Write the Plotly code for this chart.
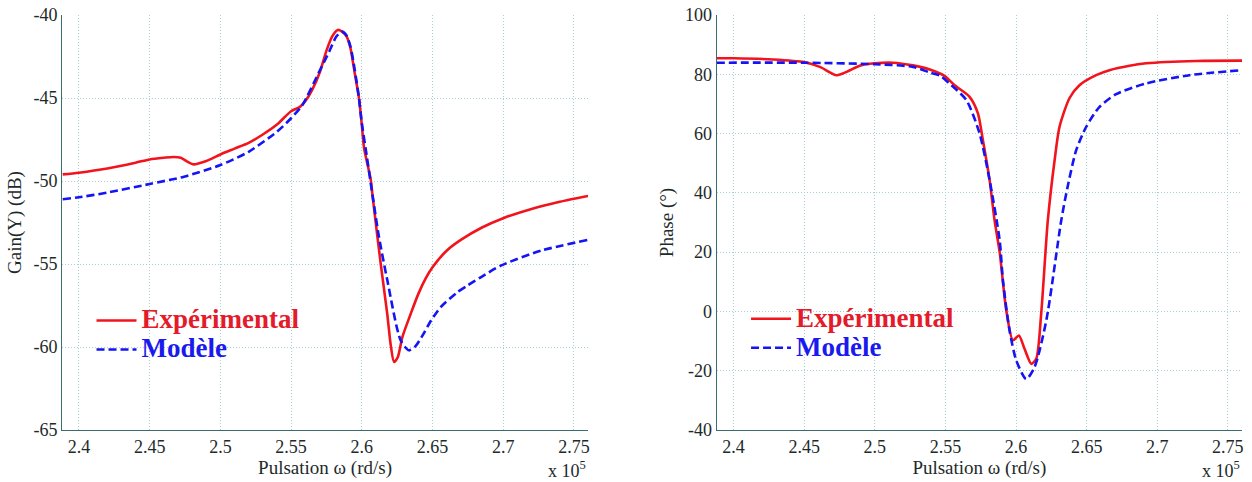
import plotly.graph_objects as go

# ---------------- data (omega in units of 1e5 rd/s) ----------------
omega_gain_exp = [2.3885, 2.40, 2.42, 2.44, 2.45, 2.46, 2.467, 2.472, 2.477, 2.481, 2.486, 2.49,
                  2.50, 2.51, 2.52, 2.53, 2.54, 2.55, 2.556, 2.56, 2.565, 2.5705, 2.5752, 2.579,
                  2.583, 2.586, 2.5893, 2.592, 2.595, 2.598, 2.60, 2.6016, 2.6063, 2.6075, 2.6134,
                  2.618, 2.6205, 2.6228, 2.6255, 2.6287, 2.6346, 2.64, 2.645, 2.65, 2.66,
                  2.67, 2.685, 2.70, 2.72, 2.74, 2.76]
gain_exp = [-49.6, -49.5, -49.25, -48.9, -48.7, -48.6, -48.55, -48.6, -48.85, -49.0, -48.9, -48.8,
            -48.4, -48.05, -47.7, -47.2, -46.6, -45.8, -45.55, -45.2, -44.5, -43.4, -42.1, -41.3,
            -40.9, -41.0, -41.3, -42.0, -43.5, -45.0, -46.6, -48.0, -49.9, -50.8, -55.0,
            -58.0, -59.9, -60.9, -60.6, -59.4, -58.0, -56.8, -55.9, -55.2, -54.2,
            -53.55, -52.8, -52.24, -51.68, -51.25, -50.9]

omega_gain_mod = [2.3885, 2.40, 2.42, 2.45, 2.4743, 2.50, 2.52, 2.54, 2.55, 2.558, 2.5705, 2.577,
                  2.582, 2.586, 2.589, 2.592, 2.595, 2.598, 2.60, 2.603, 2.6075, 2.612, 2.6181,
                  2.6275, 2.6334, 2.638, 2.643, 2.649, 2.6558, 2.6676, 2.6747, 2.6841, 2.6983,
                  2.7266, 2.76]
gain_mod = [-51.1, -50.98, -50.7, -50.18, -49.74, -49.04, -48.24, -47.03, -46.22, -45.42, -43.31, -42.2,
            -41.3, -41.0, -41.2, -41.9, -43.3, -45.0, -46.5, -48.2, -50.8, -53.3, -56.0,
            -59.6, -60.2, -59.95, -59.3, -58.4, -57.6, -56.7, -56.3, -55.8, -55.1,
            -54.2, -53.55]

omega_phase_exp = [2.388, 2.40, 2.428, 2.45, 2.4611, 2.4729, 2.48, 2.4893, 2.50, 2.5129, 2.527,
                   2.5389, 2.5495, 2.5565, 2.5671, 2.573, 2.5765, 2.5813, 2.5848, 2.5884, 2.5931,
                   2.5978, 2.602, 2.606, 2.6108, 2.6143, 2.6178, 2.6225, 2.6273, 2.6308, 2.6379,
                   2.6449, 2.6567, 2.6661, 2.6803, 2.6921, 2.7275, 2.76]
phase_exp = [85.4, 85.4, 85.0, 84.1, 82.5, 79.7, 80.8, 82.9, 83.7, 83.9, 83.0,
             81.6, 79.4, 76.3, 72.4, 66.8, 57.8, 44.2, 30.7, 20.0, 0.3,
             -9.8, -8.1, -12.6, -17.7, -16.0, -0.8, 30.7, 51.0, 62.3, 72.0,
             76.3, 79.7, 81.4, 82.9, 83.7, 84.5, 84.6]

omega_phase_mod = [2.388, 2.45, 2.50, 2.527, 2.5389, 2.5459, 2.5521, 2.5648, 2.5742, 2.5813, 2.5884,
                   2.5907, 2.5954, 2.6002, 2.6072, 2.6131, 2.6214, 2.632, 2.6365, 2.6426, 2.6497,
                   2.6591, 2.6709, 2.6921, 2.7227, 2.76]
phase_mod = [83.9, 83.9, 83.4, 82.5, 80.6, 79.6, 77.2, 71.3, 60.0, 44.2, 24.0,
             10.5, -6.4, -16.6, -22.8, -18.8, -3.1, 30.7, 42.0, 54.4, 62.3,
             69.0, 73.3, 76.9, 79.7, 81.4]

x_ticks = [2.4, 2.45, 2.5, 2.55, 2.6, 2.65, 2.7, 2.75]
x_tick_labels = ["2.4", "2.45", "2.5", "2.55", "2.6", "2.65", "2.7", "2.75"]
gain_ticks = [-65, -60, -55, -50, -45, -40]
gain_tick_labels = ["-65", "-60", "-55", "-50", "-45", "-40"]
phase_ticks = [-40, -20, 0, 20, 40, 60, 80, 100]
phase_tick_labels = ["-40", "-20", "0", "20", "40", "60", "80", "100"]

x_range = [2.388, 2.76]
gain_range = [-65, -40]
phase_range = [-40, 100]

# ---------------- styling ----------------
RED = "#f2141c"
BLUE = "#1414f5"
RED_TXT = "#e41b2a"
BLUE_TXT = "#1a1aee"
TXT = "#1d2a2a"
AXIS = "#3d6e6e"
GRID = "#a8d0d4"
SERIF = "Liberation Serif"


def leg_name(text, color):
    return f"<b><span style='color:{color};font-size:27px'>{text}</span></b>"


fig = go.Figure()

fig.add_trace(go.Scatter(x=omega_gain_exp, y=gain_exp, mode="lines",
                         line=dict(color=RED, width=2.6, shape="spline", smoothing=0.7),
                         name=leg_name("Expérimental", RED_TXT),
                         xaxis="x", yaxis="y", legend="legend"))
fig.add_trace(go.Scatter(x=omega_gain_mod, y=gain_mod, mode="lines",
                         line=dict(color=BLUE, width=2.6, dash="8px,4px", shape="spline", smoothing=0.7),
                         name=leg_name("Modèle", BLUE_TXT),
                         xaxis="x", yaxis="y", legend="legend"))
fig.add_trace(go.Scatter(x=omega_phase_exp, y=phase_exp, mode="lines",
                         line=dict(color=RED, width=2.6, shape="spline", smoothing=0.7),
                         name=leg_name("Expérimental", RED_TXT),
                         xaxis="x2", yaxis="y2", legend="legend2"))
fig.add_trace(go.Scatter(x=omega_phase_mod, y=phase_mod, mode="lines",
                         line=dict(color=BLUE, width=2.6, dash="8px,4px", shape="spline", smoothing=0.7),
                         name=leg_name("Modèle", BLUE_TXT),
                         xaxis="x2", yaxis="y2", legend="legend2"))

common_x = dict(range=x_range, tickmode="array", tickvals=x_ticks, ticktext=x_tick_labels,
                showgrid=True, gridcolor=GRID, griddash="1px,2px", gridwidth=1,
                showline=True, linecolor=AXIS, linewidth=1, zeroline=False, ticks="",
                automargin=False,
                tickfont=dict(family=SERIF, size=18, color=TXT),
                title=dict(text="Pulsation ω (rd/s)", font=dict(family=SERIF, size=19, color=TXT), standoff=0))
common_y = dict(showgrid=True, gridcolor=GRID, griddash="1px,2px", gridwidth=1,
                showline=True, linecolor=AXIS, linewidth=1, zeroline=False, ticks="",
                automargin=False,
                tickfont=dict(family=SERIF, size=18, color=TXT))

leg_common = dict(bgcolor="rgba(0,0,0,0)", borderwidth=0, xanchor="left", yanchor="top",
                  font=dict(family=SERIF, size=20), itemwidth=40, tracegroupgap=0)

fig.update_layout(
    width=1252, height=482,
    margin=dict(l=62, r=10, t=15, b=52, autoexpand=False),
    paper_bgcolor="white", plot_bgcolor="white",
    xaxis=dict(domain=[0, 0.4458], anchor="y", **common_x),
    yaxis=dict(domain=[0, 1], anchor="x", range=gain_range, tickmode="array", tickvals=gain_ticks,
               ticktext=gain_tick_labels,
               title=dict(text="Gain(Y) (dB)", font=dict(family=SERIF, size=19, color=TXT), standoff=6),
               **common_y),
    xaxis2=dict(domain=[0.5548, 1], anchor="y2", **common_x),
    yaxis2=dict(domain=[0, 1], anchor="x2", range=phase_range, tickmode="array", tickvals=phase_ticks,
                ticktext=phase_tick_labels,
                title=dict(text="Phase (°)", font=dict(family=SERIF, size=19, color=TXT), standoff=6),
                **common_y),
    legend=dict(x=0.025, y=0.311, **leg_common),
    legend2=dict(x=0.5797, y=0.315, **leg_common),
    showlegend=True,
    annotations=[
        dict(text="x 10<sup>5</sup>", xref="paper", yref="paper", x=0.4458, y=-0.096,
             xanchor="right", yanchor="middle", showarrow=False,
             font=dict(family=SERIF, size=18, color=TXT)),
        dict(text="x 10<sup>5</sup>", xref="paper", yref="paper", x=1.0, y=-0.096,
             xanchor="right", yanchor="middle", showarrow=False,
             font=dict(family=SERIF, size=18, color=TXT)),
    ],
)

fig.write_html("out.html", config={"displayModeBar": False},
               post_script="document.body.style.margin='0';document.body.style.overflow='hidden';")
